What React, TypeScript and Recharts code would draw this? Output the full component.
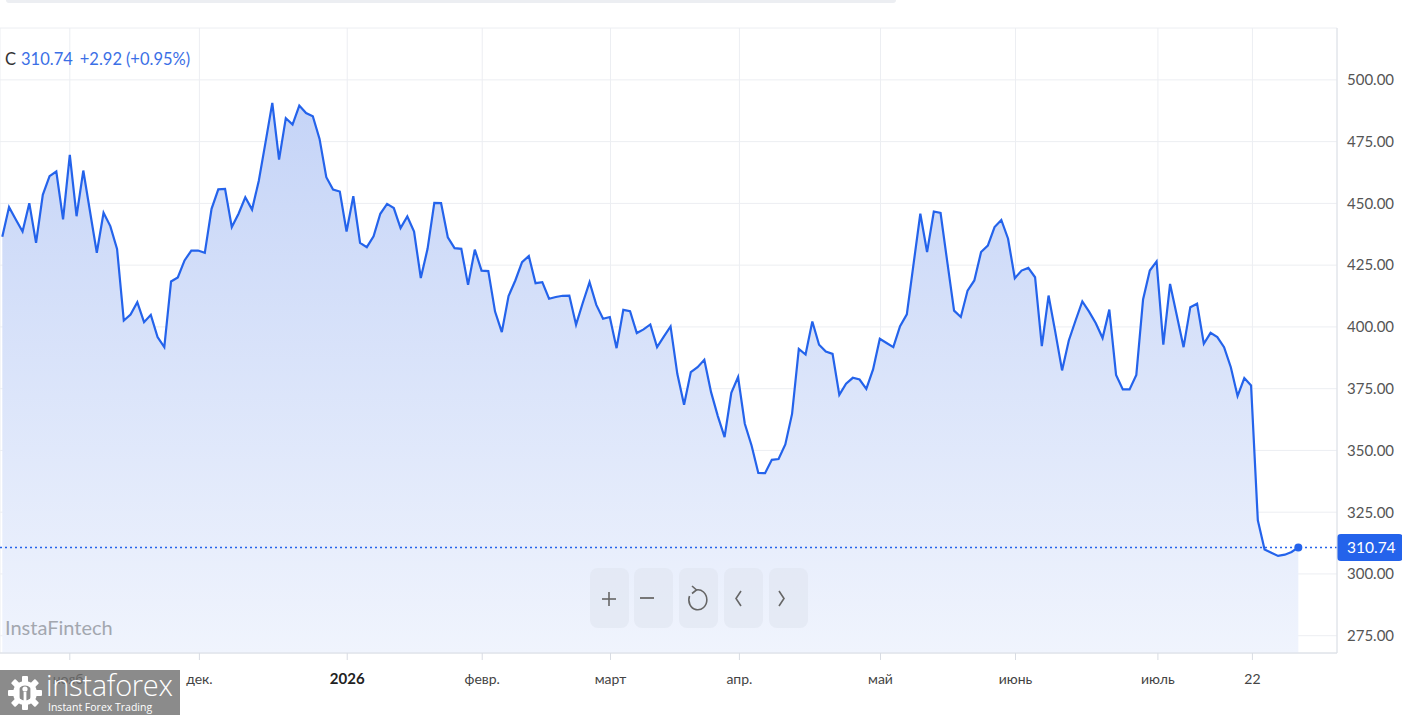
import React from 'react';
import {
  ComposedChart,
  Area,
  XAxis,
  YAxis,
  CartesianGrid,
  ReferenceLine,
  ReferenceDot,
  Label,
} from 'recharts';

// Daily closing prices (index = trading day)
const closeValues: number[] = [
  436.5, 448.5, 443.5, 438.6, 450.1, 434.0, 453.5, 461.0, 462.9, 443.5,
  469.6, 444.8, 463.3, 446.6, 430.0, 446.2, 440.8, 431.6, 402.6, 405.0,
  410.0, 401.9, 404.9, 395.9, 391.8, 418.4, 420.0, 426.9, 430.9, 430.9,
  430.0, 447.8, 455.7, 455.9, 440.4, 445.8, 452.5, 447.5, 459.2, 474.8,
  490.7, 467.7, 484.5, 481.9, 489.6, 486.6, 485.3, 476.1, 460.6, 455.6,
  454.8, 438.6, 452.9, 434.0, 432.3, 436.7, 445.8, 449.8, 448.1, 440.0,
  444.7, 438.6, 419.8, 431.6, 450.2, 450.1, 436.3, 431.9, 431.6, 417.0,
  431.3, 422.8, 422.6, 406.2, 397.9, 412.5, 418.8, 426.2, 428.7, 417.7,
  418.1, 411.4, 412.1, 412.6, 412.7, 400.9, 409.8, 418.1, 408.9, 403.3,
  404.0, 391.4, 406.9, 406.4, 397.5, 399.0, 401.0, 391.8, 396.1, 400.2,
  381.0, 368.5, 381.7, 383.7, 386.7, 373.6, 363.9, 355.4, 373.3, 379.7,
  360.8, 352.0, 340.9, 340.8, 346.2, 346.5, 352.4, 364.8, 391.1, 388.8,
  402.2, 392.8, 390.0, 389.1, 372.5, 377.0, 379.4, 378.7, 374.9, 382.8,
  395.2, 393.5, 391.8, 400.3, 405.1, 425.5, 445.8, 430.3, 446.7, 446.1,
  426.2, 406.6, 404.0, 414.7, 418.8, 430.3, 432.9, 440.4, 443.3, 435.7,
  419.7, 422.8, 423.9, 420.1, 392.2, 412.7, 397.9, 382.4, 394.5, 402.6,
  410.3, 406.2, 401.5, 395.5, 407.0, 380.6, 374.7, 374.7, 380.6, 411.1,
  422.8, 426.5, 392.8, 417.4, 404.6, 391.8, 408.0, 409.4, 393.2, 397.6,
  395.9, 391.8, 383.7, 372.0, 379.3, 376.3, 321.7, 309.9, 308.6, 307.3,
  307.8, 308.9, 310.74,
];

const monthTickIdx: number[] = [10, 29.2, 51.1, 71.1, 90.1, 109.2, 130.1, 150.1, 171.2, 185.2];
const monthTickLabels: string[] = ['нояб.', 'дек.', '2026', 'февр.', 'март', 'апр.', 'май', 'июнь', 'июль', '22'];
const priceTicks: number[] = [275, 300, 325, 350, 375, 400, 425, 450, 475, 500];

const symbolName = 'C';
const lastChange = '+2.92';
const lastChangePct = '(+0.95%)';

const chartData = closeValues.map((v, i) => ({ i, v }));
const lastIndex = closeValues.length - 1;
const lastValue = closeValues[lastIndex];

const FONT = 'Lato, "Noto Sans", sans-serif';
const BLUE = '#2463eb';

const XTick = (props: any) => {
  const { x, y, payload } = props;
  const pos = monthTickIdx.indexOf(payload.value);
  const label = pos >= 0 ? monthTickLabels[pos] : '';
  const bold = label === '2026';
  return (
    <text
      x={x}
      y={y}
      dy={22}
      textAnchor="middle"
      fontFamily={FONT}
      fontSize={bold ? 15 : 14}
      fontWeight={bold ? 700 : 400}
      fill={bold ? '#222' : '#444'}
    >
      {label}
    </text>
  );
};

const PriceTag = (props: any) => {
  const vb = props.viewBox || {};
  const x = (vb.x || 0) + (vb.width || 0);
  const y = vb.y || 0;
  return (
    <g>
      <rect x={x} y={y - 13.5} width={66} height={27} rx={4} fill={BLUE} />
      <text x={x + 10} y={y + 5.5} fontFamily={FONT} fontSize={15.5} fill="#fff">
        {lastValue.toFixed(2)}
      </text>
    </g>
  );
};

const NavButton = ({ left, children }: { left: number; children: React.ReactNode }) => (
  <div
    style={{
      position: 'absolute',
      left,
      top: 568,
      width: 39,
      height: 60,
      borderRadius: 8,
      background: 'rgba(222,227,238,0.55)',
    }}
  >
    <svg width={39} height={60} style={{ display: 'block' }}>
      {children}
    </svg>
  </div>
);

const Gear = () => (
  <svg width={36} height={36} viewBox="0 0 36 36" style={{ position: 'absolute', left: 7, top: 5 }}>
    <g fill="#fff">
      {[0, 45, 90, 135, 180, 225, 270, 315].map((a) => (
        <rect key={a} x={15} y={1} width={6} height={8} rx={1} transform={`rotate(${a} 18 18)`} />
      ))}
      <circle cx={18} cy={18} r={12} />
    </g>
    <circle cx={18} cy={18} r={7.5} fill="#8b8b8b" />
    <circle cx={18} cy={14} r={2.6} fill="#fff" />
    <rect x={16.6} y={17} width={2.8} height={13} fill="#fff" />
    <rect x={10} y={12} width={2.6} height={14} fill="#fff" />
    <rect x={23.4} y={12} width={2.6} height={14} fill="#fff" />
  </svg>
);

export default function App() {
  return (
    <div
      style={{
        position: 'fixed',
        left: 0,
        top: 0,
        width: 1402,
        height: 715,
        background: '#fff',
        fontFamily: FONT,
        overflow: 'hidden',
      }}
    >
      <div
        style={{
          position: 'absolute',
          left: 6,
          top: 0,
          width: 890,
          height: 3,
          background: '#eceef2',
          borderBottomLeftRadius: 5,
          borderBottomRightRadius: 5,
        }}
      />
      <ComposedChart
        width={1402}
        height={715}
        data={chartData}
        margin={{ top: 28, right: 0, bottom: 0, left: 0 }}
      >
        <defs>
          <linearGradient id="areaFill" x1="0" y1="0" x2="0" y2="1">
            <stop offset="0%" stopColor="#c5d4f7" />
            <stop offset="100%" stopColor="#f0f4fd" />
          </linearGradient>
        </defs>
        <CartesianGrid stroke="#eceef2" strokeWidth={1} />
        <XAxis
          dataKey="i"
          type="number"
          domain={[-0.341, 197.73]}
          allowDataOverflow
          ticks={monthTickIdx}
          interval={0}
          height={62}
          tickSize={7}
          tickMargin={2}
          tickLine={{ stroke: '#d8dce3' }}
          axisLine={{ stroke: '#d8dce3' }}
          tick={<XTick />}
        />
        <YAxis
          orientation="right"
          type="number"
          domain={[268, 521]}
          allowDataOverflow
          ticks={priceTicks}
          interval={0}
          width={65}
          tickSize={0}
          tickMargin={10}
          tickLine={false}
          axisLine={{ stroke: '#dde0e6' }}
          tickFormatter={(v: number) => v.toFixed(2)}
          tick={{ fill: '#555', fontSize: 15, fontFamily: FONT }}
        />
        <Area
          type="linear"
          dataKey="v"
          stroke={BLUE}
          strokeWidth={2.2}
          fill="url(#areaFill)"
          fillOpacity={1}
          isAnimationActive={false}
          dot={false}
          activeDot={false}
        />
        <ReferenceLine y={lastValue} stroke={BLUE} strokeWidth={1.5} strokeDasharray="2 3">
          <Label content={PriceTag} />
        </ReferenceLine>
        <ReferenceDot x={lastIndex} y={lastValue} r={4} fill={BLUE} stroke="none" />
      </ComposedChart>

      <div
        style={{
          position: 'absolute',
          left: 5,
          top: 48,
          fontSize: 16.5,
          whiteSpace: 'nowrap',
          lineHeight: '22px',
        }}
      >
        <span style={{ color: '#333' }}>{symbolName}</span>
        <span style={{ color: '#3b6fe6', marginLeft: 5 }}>{lastValue.toFixed(2)}</span>
        <span style={{ color: '#3b6fe6', marginLeft: 7 }}>{lastChange}</span>
        <span style={{ color: '#3b6fe6', marginLeft: 4 }}>{lastChangePct}</span>
      </div>

      <div
        style={{
          position: 'absolute',
          left: 5,
          top: 615,
          fontSize: 20,
          color: '#a3a7af',
          whiteSpace: 'nowrap',
        }}
      >
        InstaFintech
      </div>

      <NavButton left={590}>
        <line x1={12} y1={31} x2={26} y2={31} stroke="#666" strokeWidth={1.6} />
        <line x1={19} y1={24} x2={19} y2={38} stroke="#666" strokeWidth={1.6} />
      </NavButton>
      <NavButton left={634}>
        <line x1={6} y1={30} x2={20} y2={30} stroke="#777" strokeWidth={2} />
      </NavButton>
      <NavButton left={679}>
        <path d="M 10.5 28 A 9 10 0 1 0 17 22" fill="none" stroke="#666" strokeWidth={1.6} />
        <path d="M 13 18 L 17.5 22 L 13 25.5" fill="none" stroke="#666" strokeWidth={1.6} />
      </NavButton>
      <NavButton left={724}>
        <path d="M 17 23 L 12 30.5 L 17 38" fill="none" stroke="#666" strokeWidth={1.6} />
      </NavButton>
      <NavButton left={769}>
        <path d="M 10 23 L 15 30.5 L 10 38" fill="none" stroke="#666" strokeWidth={1.6} />
      </NavButton>

      <div
        style={{
          position: 'absolute',
          left: 0,
          top: 670,
          width: 180,
          height: 45,
          background: 'rgba(110,110,110,0.8)',
          color: '#fff',
          fontFamily: '"Open Sans", "Noto Sans", sans-serif',
        }}
      >
        <Gear />
        <div
          style={{
            position: 'absolute',
            left: 46,
            top: 2,
            fontSize: 29,
            fontWeight: 300,
            lineHeight: '25px',
            letterSpacing: -0.3,
            whiteSpace: 'nowrap',
          }}
        >
          instaforex
        </div>
        <div
          style={{
            position: 'absolute',
            left: 48,
            top: 31,
            fontSize: 10.5,
            lineHeight: '12px',
            whiteSpace: 'nowrap',
          }}
        >
          Instant Forex Trading
        </div>
      </div>
    </div>
  );
}
